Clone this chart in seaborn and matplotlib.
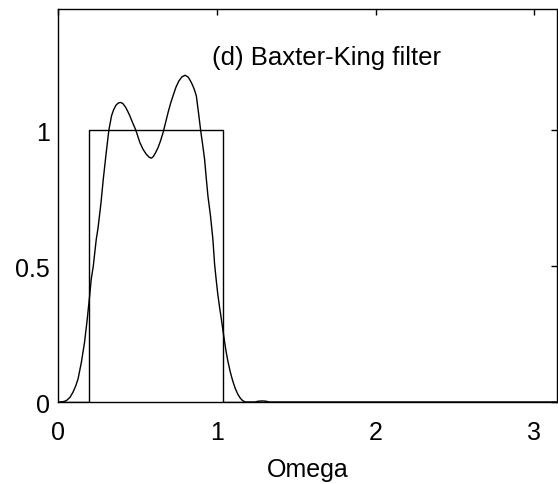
import numpy as np
import pandas as pd
import matplotlib
matplotlib.use("Agg")
import matplotlib.pyplot as plt
import seaborn as sns

# Baxter-King filter gain
bk_omega = [0.0, 0.03, 0.052, 0.075, 0.094, 0.112, 0.126, 0.147, 0.167, 0.184,
            0.199, 0.209, 0.222, 0.241, 0.251, 0.27, 0.285, 0.303, 0.32, 0.337,
            0.35, 0.365, 0.38, 0.394, 0.408, 0.425, 0.44, 0.452, 0.47, 0.49,
            0.515, 0.535, 0.555, 0.575, 0.588, 0.60, 0.615, 0.63, 0.645, 0.661,
            0.677, 0.693, 0.708, 0.724, 0.742, 0.76, 0.78, 0.80, 0.82, 0.84,
            0.857, 0.871, 0.887, 0.898, 0.91, 0.923, 0.934, 0.944, 0.96, 0.975,
            0.986, 0.996, 1.006, 1.017, 1.027, 1.038, 1.048, 1.058, 1.069, 1.085,
            1.10, 1.116, 1.132, 1.148, 1.163, 1.18, 1.24, 1.26, 1.285, 1.31,
            1.33, 3.1416]
bk_gain = [0.0, 0.001, 0.005, 0.017, 0.036, 0.06, 0.085, 0.146, 0.22, 0.305,
           0.39, 0.452, 0.5, 0.60, 0.636, 0.73, 0.82, 0.915, 1.0, 1.053,
           1.075, 1.092, 1.1, 1.102, 1.098, 1.085, 1.068, 1.053, 1.027, 1.0,
           0.955, 0.93, 0.912, 0.9, 0.897, 0.903, 0.918, 0.936, 0.96, 0.99,
           1.027, 1.065, 1.097, 1.126, 1.157, 1.18, 1.196, 1.202, 1.195, 1.175,
           1.152, 1.126, 1.053, 1.0, 0.95, 0.893, 0.82, 0.758, 0.685, 0.60,
           0.507, 0.45, 0.397, 0.35, 0.311, 0.266, 0.225, 0.187, 0.152, 0.11,
           0.078, 0.05, 0.029, 0.014, 0.005, 0.0, 0.0, 0.003, 0.004, 0.003,
           0.0, 0.0]

# Ideal band-pass filter
ideal_omega = [0.0, 0.194, 0.194, 1.036, 1.036, 3.1416]
ideal_gain = [0.0, 0.0, 1.0, 1.0, 0.0, 0.0]

x_ticks = [0, 1, 2, 3]
y_ticks = [0, 0.5, 1]
y_tick_labels = ["0", "0.5", "1"]
title_text = "(d) Baxter-King filter"
x_label = "Omega"

sns.set_style("white")
plt.rcParams["font.family"] = ["Liberation Sans", "DejaVu Sans"]

fig = plt.figure(figsize=(5.58, 4.85), dpi=100)
ax = fig.add_axes([0.104, 0.169, 0.894, 0.810])

df_bk = pd.DataFrame({"omega": bk_omega, "gain": bk_gain})
df_ideal = pd.DataFrame({"omega": ideal_omega, "gain": ideal_gain})

sns.lineplot(data=df_ideal, x="omega", y="gain", ax=ax, sort=False,
             estimator=None, color="black", linewidth=1.0)
sns.lineplot(data=df_bk, x="omega", y="gain", ax=ax, sort=False,
             estimator=None, color="black", linewidth=1.0)

ax.set_xlim(0, 3.1416)
ax.set_ylim(0, 1.445)
ax.set_xticks(x_ticks)
ax.set_xticklabels([str(t) for t in x_ticks])
ax.set_yticks(y_ticks)
ax.set_yticklabels(y_tick_labels)
ax.tick_params(direction="in", length=4, width=1, top=True, right=True,
               labelsize=18, colors="black")
ax.tick_params(axis="x", pad=13)
ax.tick_params(axis="y", pad=6)
ax.set_xlabel(x_label, fontsize=18, color="black", labelpad=9)
ax.set_ylabel("")
for s in ax.spines.values():
    s.set_color("black")
    s.set_linewidth(1.0)

ax.text(0.967, 1.27, title_text, fontsize=18.5, color="black", va="center", ha="left")

fig.savefig("out.png", dpi=100)
